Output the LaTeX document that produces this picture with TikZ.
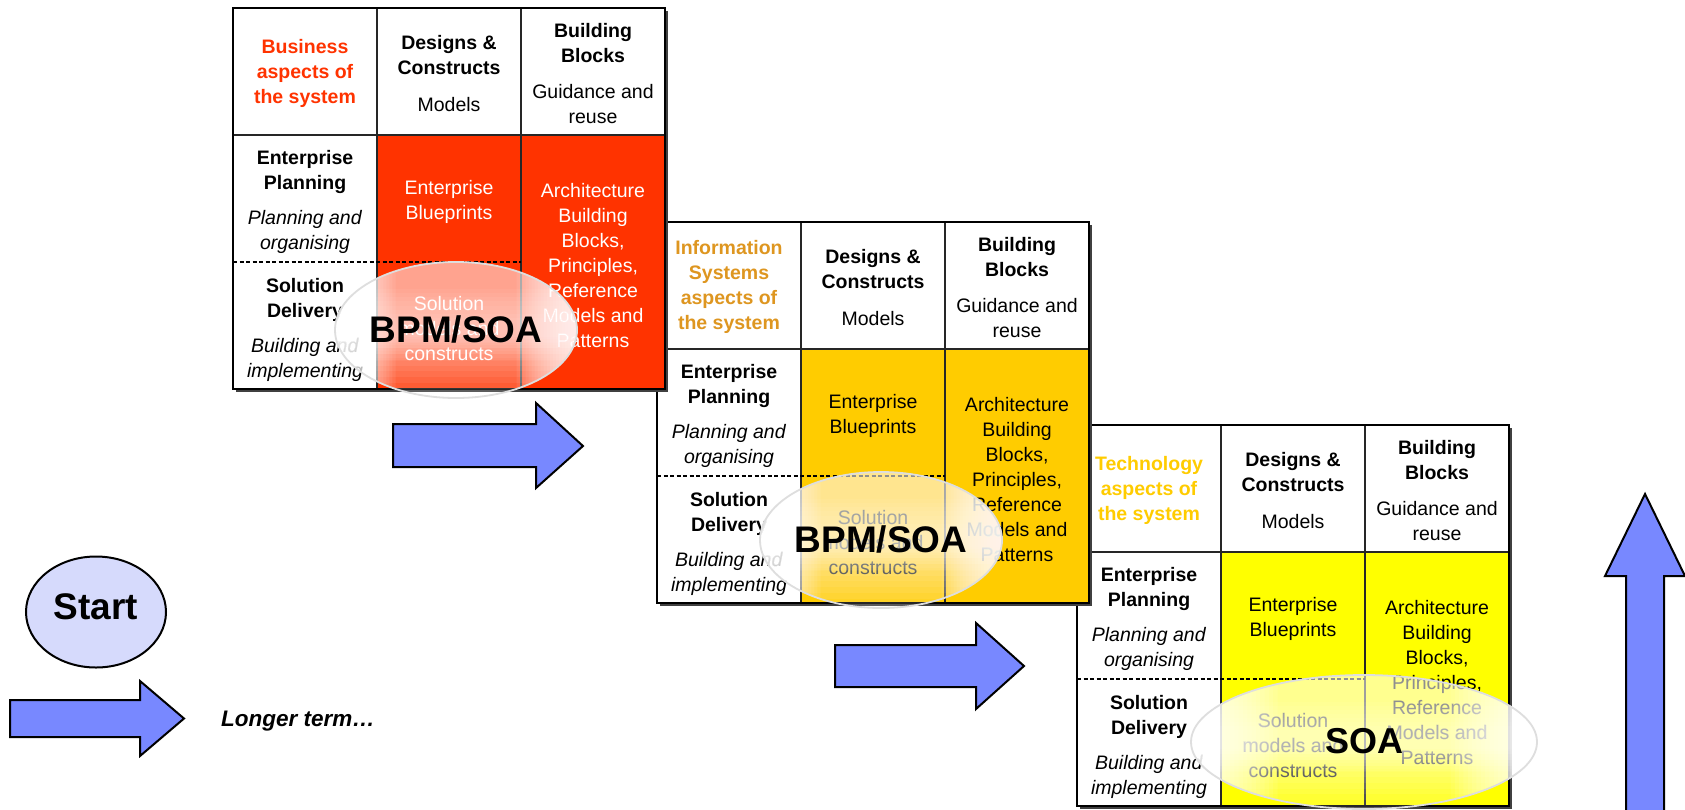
\documentclass[tikz,border=0pt]{standalone}
\usepackage{fontspec}
\setmainfont{Liberation Sans}
\usetikzlibrary{shapes.geometric}
\definecolor{redfill}{RGB}{255,51,0}
\definecolor{goldfill}{RGB}{255,204,0}
\definecolor{yellowfill}{RGB}{255,255,0}
\definecolor{isorange}{RGB}{222,150,32}
\definecolor{arrowblue}{RGB}{120,136,255}
\definecolor{startfill}{RGB}{214,218,252}
\tikzset{
  cell/.style={align=center, inner sep=0pt, font=\fontsize{19.5}{25}\selectfont},
  gridline/.style={line width=1.6pt, draw=black!85},
  dashline/.style={line width=1.2pt, dash pattern=on 4pt off 2.5pt},
  outerline/.style={line width=2.6pt},
  glassrim/.style={draw=black!13, line width=1.8pt},
  blockarrow/.style={fill=arrowblue, draw=black, line width=2pt, line join=miter},
  bigtag/.style={font=\bfseries\fontsize{37}{40}\selectfont, inner sep=0pt},
}
% #1 name, #2 x, #3 y, #4 fill, #5 head colour, #6 head text, #7 body colour
\newcommand\archgrid[7]{%
\begin{scope}[shift={(#2,#3)}]
  \fill[black!75] (3,3) rectangle (435,384);
  \fill[white] (0,0) rectangle (432,381);
  \fill[#4] (144,127) rectangle (432,381);
  \draw[gridline] (144,0) -- (144,381);
  \draw[gridline] (288,0) -- (288,381);
  \draw[gridline] (0,127) -- (432,127);
  \draw[dashline] (0,254) -- (288,254);
  \draw[outerline] (0,0) rectangle (432,381);
  \node[cell, text=#5] (#1h1) at (72,65) {#6};
  \node[cell] (#1h2) at (216,66) {\textbf{Designs \&}\\\textbf{Constructs}\\[12pt]Models};
  \node[cell] (#1h3) at (360,66) {\textbf{Building}\\\textbf{Blocks}\\[11pt]Guidance and\\reuse};
  \node[cell] (#1r2) at (72,194) {\textbf{Enterprise}\\\textbf{Planning}\\[10pt]\textit{Planning and}\\\textit{organising}};
  \node[cell] (#1r3) at (72,322) {\textbf{Solution}\\\textbf{Delivery}\\[10pt]\textit{Building and}\\\textit{implementing}};
  \node[cell, text=#7] (#1eb) at (216,194) {Enterprise\\Blueprints};
  \node[cell, text=#7] (#1sc) at (216,321) {Solution\\models and\\constructs};
  \node[cell, text=#7] (#1ab) at (360,258) {Architecture\\Building\\Blocks,\\Principles,\\Reference\\Models and\\Patterns};
\end{scope}}
% glass oval: #1 name, #2 x, #3 y, #4 rx, #5 ry
\newcommand\glassoval[5]{%
  \begin{scope}
    \clip (#2,#3) ellipse ({#4} and {#5});
    \fill[white, opacity=0.15] ({#2-#4-2},{#3-#5-2}) rectangle ({#2+#4+2},{#3+#5+2});
    \foreach \k in {1,...,10} {
      \fill[white, opacity=0.065] ({#2-#4-2},{#3-#5-2}) rectangle ({#2+#4+2},{#3+#5*(0.95-0.085*\k)});
    }
    \foreach \k in {0,...,7} {
      \fill[white, opacity=0.05] ({#2-#4-2},{#3-#5*(0.6-0.06*\k)}) rectangle ({#2+#4+2},{#3+#5*(0.45-0.045*\k)});
    }
    \foreach \k in {0,...,19} {
      \pgfmathsetmacro\glassw{#4*(0.5+0.025*\k)}
      \fill[white, opacity=0.075] ({#2-#4-2},{#3-#5-2}) rectangle ({#2-\glassw},{#3+#5+2})
                                   ({#2+\glassw},{#3-#5-2}) rectangle ({#2+#4+2},{#3+#5+2});
    }
  \end{scope}
  \draw[glassrim] (#2,#3) ellipse ({#4} and {#5});
  \coordinate (#1) at (#2,#3);}
\begin{document}
\begin{tikzpicture}[x=1pt,y=-1pt]
\clip (0,0) rectangle (1685,809);
\fill[white] (0,0) rectangle (1685,809);

% grid 3 (technology)
\archgrid{g3}{1077}{425}{yellowfill}{goldfill}{\textbf{Technology}\\\textbf{aspects of}\\\textbf{the system}}{black}
\glassoval{o3}{1364}{742}{173}{67}
\node[bigtag, font=\bfseries\fontsize{36}{40}\selectfont] (soa3) at (1364,741) {SOA};

% grid 2 (information systems)
\archgrid{g2}{657}{222}{goldfill}{isorange}{\textbf{Information}\\\textbf{Systems}\\\textbf{aspects of}\\\textbf{the system}}{black}
\glassoval{o2}{881}{540}{121}{68}
\node[bigtag] (bpm2) at (881,539) {BPM/SOA};

% grid 1 (business)
\archgrid{g1}{233}{8}{redfill}{redfill}{\textbf{Business}\\\textbf{aspects of}\\\textbf{the system}}{white}
\glassoval{o1}{456}{330}{121}{68}
\node[bigtag] (bpm1) at (456,329) {BPM/SOA};

% block arrows
\draw[blockarrow] (393,424) -- (536,424) -- (536,403) -- (583,446) -- (536,488) -- (536,467) -- (393,467) -- cycle;
\draw[blockarrow] (835,645) -- (976,645) -- (976,623) -- (1024,666) -- (976,709) -- (976,687) -- (835,687) -- cycle;
\draw[blockarrow] (10,700) -- (140,700) -- (140,681) -- (184,718.5) -- (140,756) -- (140,737) -- (10,737) -- cycle;
\draw[blockarrow] (1626,830) -- (1626,576) -- (1605,576) -- (1645,494) -- (1685,576) -- (1664,576) -- (1664,830) -- cycle;

% start
\node[draw=black, line width=2pt, fill=startfill, ellipse, minimum width=140pt, minimum height=111pt, inner sep=0pt] (startov) at (96,612) {};
\node[font=\bfseries\fontsize{37}{40}\selectfont, inner sep=0pt] (start) at (96,607) {Start};
\node[font=\bfseries\itshape\fontsize{22.5}{26}\selectfont, inner sep=0pt, anchor=base west] (longer) at (221,726) {Longer term…};
\end{tikzpicture}
\end{document}
